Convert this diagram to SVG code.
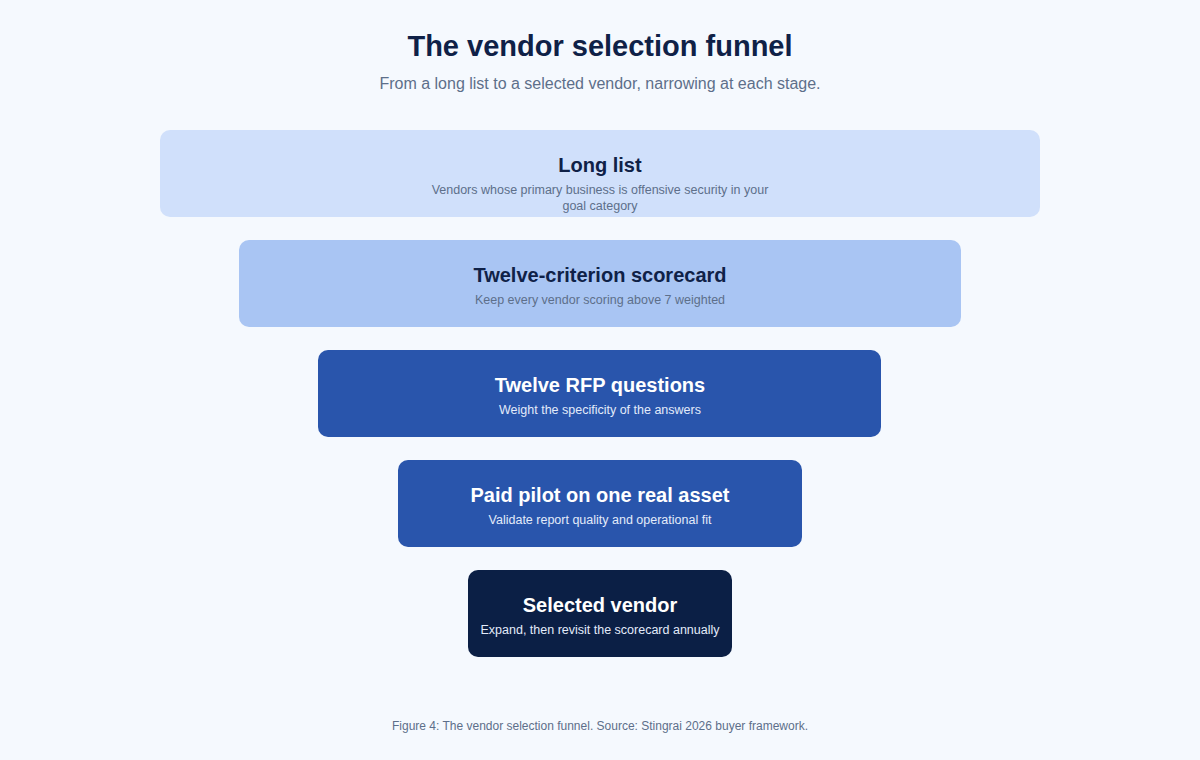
<svg xmlns="http://www.w3.org/2000/svg" width="1200" height="760" viewBox="0 0 1200 760">
<style>
text{font-family:"Liberation Sans",Arial,sans-serif;text-anchor:middle}
.t{font-size:20px;font-weight:bold}
.d{font-size:12.5px}
.dk .t{fill:#0f2147}.dk .d{fill:#5d6f8a}
.lt .t{fill:#ffffff}.lt .d{fill:#e3ebfa}
</style>
<rect width="1200" height="760" fill="#f5f9fe"/>
<text x="600" y="56" font-size="29" font-weight="bold" fill="#0f2147">The vendor selection funnel</text>
<text x="600" y="89" font-size="16" fill="#5d6f8a">From a long list to a selected vendor, narrowing at each stage.</text>
<g id="connectors"/>
<g id="n1" class="dk"><rect x="160" y="130" width="880" height="87" rx="10" fill="#d0e0fb"/>
<text class="t" x="600" y="172">Long list</text>
<text class="d" x="600" y="194">Vendors whose primary business is offensive security in your</text>
<text class="d" x="600" y="210">goal category</text></g>
<g id="n2" class="dk"><rect x="239" y="240" width="722" height="87" rx="10" fill="#a9c5f3"/>
<text class="t" x="600" y="282">Twelve-criterion scorecard</text>
<text class="d" x="600" y="304">Keep every vendor scoring above 7 weighted</text></g>
<g id="n3" class="lt"><rect x="318" y="350" width="563" height="87" rx="10" fill="#2955ac"/>
<text class="t" x="600" y="392">Twelve RFP questions</text>
<text class="d" x="600" y="414">Weight the specificity of the answers</text></g>
<g id="n4" class="lt"><rect x="398" y="460" width="404" height="87" rx="10" fill="#2955ac"/>
<text class="t" x="600" y="502">Paid pilot on one real asset</text>
<text class="d" x="600" y="524">Validate report quality and operational fit</text></g>
<g id="n5" class="lt"><rect x="468" y="570" width="264" height="87" rx="10" fill="#0b1f45"/>
<text class="t" x="600" y="612">Selected vendor</text>
<text class="d" x="600" y="634">Expand, then revisit the scorecard annually</text></g>
<text x="600" y="730" font-size="12" fill="#5d6f8a">Figure 4: The vendor selection funnel. Source: Stingrai 2026 buyer framework.</text>
</svg>
